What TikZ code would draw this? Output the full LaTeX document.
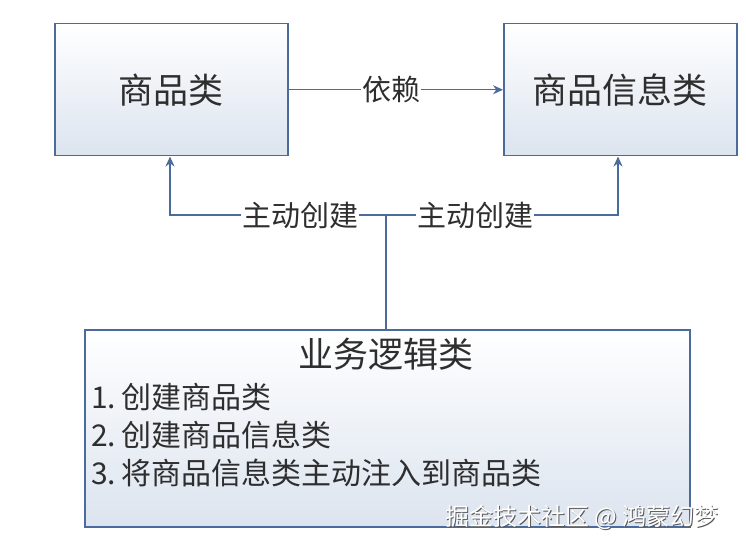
\documentclass[tikz,border=0pt]{standalone}
\usepackage{fontspec}
\setmainfont{Noto Sans CJK SC}
\usetikzlibrary{arrows.meta}
\definecolor{edge}{HTML}{4A6B9C}
\definecolor{boxbot}{HTML}{DCE4EF}
\definecolor{txt}{HTML}{2E2E2E}
\tikzset{
  cls/.style={draw=edge, line width=1.5pt, top color=white, bottom color=boxbot, inner sep=0pt},
  conn/.style={draw=edge, line width=1.5pt},
  arr/.style={conn, -{Stealth[length=10pt,width=9pt]}},
  lbl/.style={fill=white, text=txt, font=\fontsize{29}{32}\selectfont, inner sep=1pt},
  item/.style={text=txt, font=\fontsize{30}{34}\selectfont, anchor=west, inner sep=0pt},
}
\begin{document}
\begin{tikzpicture}[x=1pt,y=-1pt]
\useasboundingbox (0,0) rectangle (746,548);
\fill[white] (0,0) rectangle (746,548);
% boxes
\node[cls, minimum width=233pt, minimum height=132pt, anchor=north west, text=txt, font=\fontsize{35}{40}\selectfont] (goods) at (54,23) {商品类};
\node[cls, minimum width=233pt, minimum height=132pt, anchor=north west, text=txt, font=\fontsize{35}{40}\selectfont] (info) at (503,23) {商品信息类};
\node[cls, minimum width=605pt, minimum height=197pt, anchor=north west] (logic) at (84,329) {};
% texts in logic box
\node[text=txt, font=\fontsize{35}{40}\selectfont] (title) at (386,354) {业务逻辑类};
\node[item] (l1) at (91,397) {1.\hspace{5pt}创建商品类};
\node[item] (l2) at (91,435) {2.\hspace{5pt}创建商品信息类};
\node[item] (l3) at (91,473) {3.\hspace{5pt}将商品信息类主动注入到商品类};
% connectors
\coordinate (j) at (386,215);
\draw[arr] (goods.east) -- (info.west) node[lbl, pos=0.48] (dep) {依赖};
\draw[conn] (logic.north -| j) -- (j);
\draw[arr] (j) -- (170,215) -- (goods.south -| 170,0);
\draw[arr] (j) -- (618,215) -- (info.south -| 618,0);
\node[lbl] (c1) at (300,215) {主动创建};
\node[lbl] (c2) at (475,215) {主动创建};
% watermark
\node[text=gray!70!black, font=\fontsize{24}{28}\selectfont, anchor=west, inner sep=0pt] (wm0) at (446.2,518.2) {掘金技术社区 @ 鸿蒙幻梦};
\node[text=white, font=\fontsize{24}{28}\selectfont, anchor=west, inner sep=0pt] (wm) at (445,517) {掘金技术社区 @ 鸿蒙幻梦};
\end{tikzpicture}
\end{document}
